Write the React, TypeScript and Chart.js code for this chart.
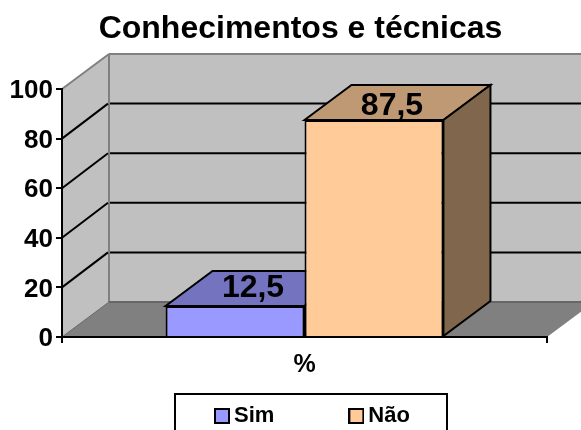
import React, { useEffect, useRef } from "react";
import { Chart, registerables } from "chart.js";

Chart.register(...registerables);

const categories = ["%"];
const seriesNames = ["Sim", "Não"];
const simValues = [12.5];
const naoValues = [87.5];
const yTickMax = 100;
const yTickStep = 20;
const titleText = "Conhecimentos e técnicas";

const FONT = "'Liberation Sans', Arial, sans-serif";
const DX = 47;
const DY = 35;
const FRONT = ["#9999FF", "#FFCC99"];
const TOP = ["#7373BF", "#BF9973"];
const SIDE = ["#4D4D80", "#80664D"];
const LABEL_LIFT = [18, 14];

function poly(ctx: CanvasRenderingContext2D, pts: number[][], fill?: string, stroke?: string, lw = 2) {
  ctx.beginPath();
  pts.forEach((p, i) => (i ? ctx.lineTo(p[0], p[1]) : ctx.moveTo(p[0], p[1])));
  ctx.closePath();
  if (fill) {
    ctx.fillStyle = fill;
    ctx.fill();
  }
  if (stroke) {
    ctx.strokeStyle = stroke;
    ctx.lineWidth = lw;
    ctx.lineJoin = "miter";
    ctx.stroke();
  }
}

function line(ctx: CanvasRenderingContext2D, x1: number, y1: number, x2: number, y2: number, color: string, lw = 2) {
  ctx.beginPath();
  ctx.moveTo(x1, y1);
  ctx.lineTo(x2, y2);
  ctx.strokeStyle = color;
  ctx.lineWidth = lw;
  ctx.stroke();
}

const threeD = {
  id: "threeD",
  afterLayout(chart: any) {
    const lg = chart.legend;
    const pad = lg.options.labels.padding;
    const dy = 405 - pad - lg.top;
    lg.left = 221 - pad;
    lg.right = lg.left + 500;
    lg.top += dy;
    lg.bottom += dy;
    chart.titleBlock.left = 0;
    chart.titleBlock.right = 601;
    chart.titleBlock.width = 601;
  },
  beforeDraw(chart: any) {
    const { ctx, chartArea: a } = chart;
    const y = chart.scales.y;
    const wallR = a.right + DX;
    ctx.save();
    poly(ctx, [[a.left, a.top], [a.left + DX, a.top - DY], [a.left + DX, a.bottom - DY], [a.left, a.bottom]], "#C0C0C0");
    poly(ctx, [[a.left + DX, a.top - DY], [wallR, a.top - DY], [wallR, a.bottom - DY], [a.left + DX, a.bottom - DY]], "#C0C0C0");
    poly(ctx, [[a.left, a.bottom], [a.left + DX, a.bottom - DY], [wallR, a.bottom - DY], [a.right, a.bottom]], "#808080");
    line(ctx, a.left, a.top, a.left + DX, a.top - DY, "#808080");
    line(ctx, a.left + DX, a.top - DY, wallR, a.top - DY, "#808080");
    line(ctx, a.left + DX, a.top - DY, a.left + DX, a.bottom - DY, "#808080");
    line(ctx, a.left, a.bottom, a.left + DX, a.bottom - DY, "#666666", 1);
    line(ctx, a.left + DX, a.bottom - DY, wallR, a.bottom - DY, "#666666");
    y.ticks.forEach((t: any) => {
      if (t.value <= 0 || t.value >= yTickMax) return;
      const py = y.getPixelForValue(t.value);
      line(ctx, a.left, py, a.left + DX - 1, py - DY, "#000000");
      line(ctx, a.left + DX + 1, py - DY, wallR, py - DY, "#000000");
    });
    // tick closing the category axis at its far end
    line(ctx, a.right, a.bottom, a.right, a.bottom + 6, "#000000");
    ctx.restore();
  },
  beforeDatasetsDraw(chart: any) {
    const { ctx } = chart;
    ctx.save();
    chart.data.datasets.forEach((_: any, i: number) => {
      const b = chart.getDatasetMeta(i).data[0];
      const l = b.x - b.width / 2;
      const r = b.x + b.width / 2;
      poly(ctx, [[l, b.y], [l + DX, b.y - DY], [r + DX, b.y - DY], [r, b.y]], TOP[i], "#000000");
      poly(ctx, [[r, b.y], [r + DX, b.y - DY], [r + DX, b.base - DY], [r, b.base]], SIDE[i], "#000000");
    });
    ctx.restore();
  },
  afterDatasetsDraw(chart: any) {
    const { ctx } = chart;
    ctx.save();
    ctx.font = `bold 32px ${FONT}`;
    ctx.fillStyle = "#000000";
    ctx.textAlign = "center";
    ctx.textBaseline = "middle";
    chart.data.datasets.forEach((ds: any, i: number) => {
      const b = chart.getDatasetMeta(i).data[0];
      const text = String(ds.data[0]).replace(".", ",");
      ctx.fillText(text, b.x + 18, b.y - LABEL_LIFT[i]);
    });
    ctx.restore();
  },
  afterDraw(chart: any) {
    const { ctx } = chart;
    ctx.save();
    ctx.strokeStyle = "#000000";
    ctx.lineWidth = 2;
    ctx.strokeRect(175, 394, 272, 60);
    ctx.restore();
  },
};

function legendSwatch(color: string) {
  const c = document.createElement("canvas");
  c.width = 16;
  c.height = 16;
  const g = c.getContext("2d")!;
  g.fillStyle = color;
  g.fillRect(0, 0, 16, 16);
  g.strokeStyle = "#000000";
  g.lineWidth = 2;
  g.strokeRect(1, 1, 14, 14);
  return c;
}

export default function App() {
  const ref = useRef<HTMLCanvasElement>(null);
  useEffect(() => {
    document.body.style.margin = "0";
    const chart = new Chart(ref.current!, {
      type: "bar",
      data: {
        labels: categories,
        datasets: [
          { label: seriesNames[0], data: simValues, backgroundColor: FRONT[0], borderColor: "#000000", borderWidth: 2 },
          { label: seriesNames[1], data: naoValues, backgroundColor: FRONT[1], borderColor: "#000000", borderWidth: 2 },
        ],
      },
      options: {
        responsive: false,
        animation: false,
        layout: { padding: { left: 0, right: 34, top: 0, bottom: -112 } },
        datasets: { bar: { categoryPercentage: 0.573, barPercentage: 1 } },
        scales: {
          x: {
            afterFit: (s: any) => {
              s.height = 92;
            },
            border: { color: "#000000", width: 2 },
            grid: { drawOnChartArea: false, drawTicks: true, color: "#000000", lineWidth: 2, tickLength: 6 },
            ticks: { color: "#000000", font: { family: FONT, size: 25, weight: "bold" }, padding: 7, maxRotation: 0 },
          },
          y: {
            min: 0,
            max: yTickMax,
            afterFit: (s: any) => {
              s.width = 62;
            },
            border: { color: "#000000", width: 2 },
            grid: { drawOnChartArea: false, drawTicks: true, color: "#000000", lineWidth: 2, tickLength: 6 },
            ticks: { stepSize: yTickStep, color: "#000000", font: { family: FONT, size: 26, weight: "bold" }, padding: 3, labelOffset: 2 },
          },
        },
        plugins: {
          tooltip: { enabled: false },
          title: {
            display: true,
            text: titleText,
            color: "#000000",
            font: { family: FONT, size: 32, weight: "bold", lineHeight: 1.2 },
            padding: { top: 10, bottom: 40.6 },
          },
          legend: {
            display: true,
            position: "bottom",
            align: "start",
            labels: {
              usePointStyle: true,
              pointStyleWidth: 2,
              padding: 81,
              color: "#000000",
              font: { family: FONT, size: 22, weight: "bold" },
              generateLabels: (c: any) =>
                c.data.datasets.map((d: any, i: number) => ({
                  text: d.label,
                  fontColor: "#000000",
                  pointStyle: legendSwatch(FRONT[i]),
                  datasetIndex: i,
                  hidden: false,
                  lineWidth: 0,
                })),
            },
          },
        },
      } as any,
      plugins: [threeD],
    });
    return () => chart.destroy();
  }, []);
  return <canvas ref={ref} width={581} height={430} style={{ display: "block" }} />;
}
